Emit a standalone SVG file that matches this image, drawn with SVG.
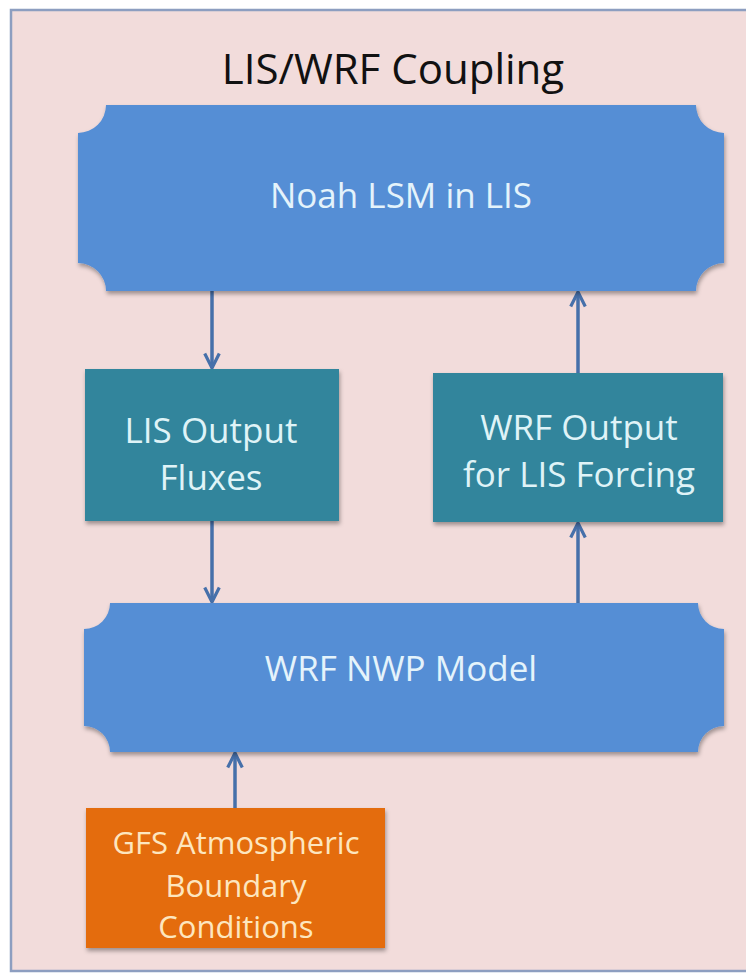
<svg xmlns="http://www.w3.org/2000/svg" width="746" height="973" viewBox="0 0 746 973">
<defs>
<style>
.t{font-family:"Open Sans","Liberation Sans",sans-serif;text-anchor:middle}
.title{font-size:42px;fill:#111111}
.bt{font-size:35px;fill:#e4f3fb}
.tt{font-size:35px;fill:#dff3f7}
.ot{font-size:31px;fill:#fde6bf}
.blue{fill:#558ed5}
.teal{fill:#31859c}
.orange{fill:#e46c0a}
.conn{stroke:#4670aa;stroke-width:3.5;fill:none}
</style>
<filter id="sh" x="-10%" y="-10%" width="120%" height="125%">
<feDropShadow dx="1" dy="3" stdDeviation="2" flood-color="#000" flood-opacity="0.35"/>
</filter>
<marker id="ah" viewBox="0 0 12 12" refX="11" refY="6" markerWidth="5" markerHeight="5" orient="auto" markerUnits="strokeWidth">
<path d="M1,1 L11,6 L1,11" fill="none" stroke="#4670aa" stroke-width="2.2"/>
</marker>
</defs>
<rect x="0" y="0" width="746" height="973" fill="#ffffff"/>
<rect id="frame" x="11" y="10" width="745" height="961" fill="#f2dcdb" stroke="#8d9ec0" stroke-width="2.5"/>
<text class="t title" x="393" y="84">LIS/WRF Coupling</text>
<g id="connectors">
<line class="conn" x1="212" y1="291" x2="212" y2="368" marker-end="url(#ah)"/>
<line class="conn" x1="578" y1="373" x2="578" y2="292" marker-end="url(#ah)"/>
<line class="conn" x1="212" y1="521" x2="212" y2="602" marker-end="url(#ah)"/>
<line class="conn" x1="578" y1="603" x2="578" y2="523" marker-end="url(#ah)"/>
<line class="conn" x1="235" y1="808" x2="235" y2="753" marker-end="url(#ah)"/>
</g>
<g id="noah">
<path class="blue" filter="url(#sh)" d="M106,105 H696 A28,28 0 0 0 724,133 V263 A28,28 0 0 0 696,291 H106 A28,28 0 0 0 78,263 V133 A28,28 0 0 0 106,105 Z"/>
<text class="t bt" x="401" y="208">Noah LSM in LIS</text>
</g>
<g id="lis-output">
<rect class="teal" filter="url(#sh)" x="85" y="369" width="254" height="152"/>
<text class="t tt" x="211" y="443">LIS Output</text>
<text class="t tt" x="211" y="490">Fluxes</text>
</g>
<g id="wrf-output">
<rect class="teal" filter="url(#sh)" x="433" y="373" width="290" height="149"/>
<text class="t tt" x="579" y="440">WRF Output</text>
<text class="t tt" x="579" y="487">for LIS Forcing</text>
</g>
<g id="wrf-nwp">
<path class="blue" filter="url(#sh)" d="M110,603 H698 A26,26 0 0 0 724,629 V726 A26,26 0 0 0 698,752 H110 A26,26 0 0 0 84,726 V629 A26,26 0 0 0 110,603 Z"/>
<text class="t bt" x="401" y="681">WRF NWP Model</text>
</g>
<g id="gfs">
<rect class="orange" filter="url(#sh)" x="86" y="808" width="299" height="140"/>
<text class="t ot" x="236" y="854">GFS Atmospheric</text>
<text class="t ot" x="236" y="897">Boundary</text>
<text class="t ot" x="236" y="938">Conditions</text>
</g>
</svg>
